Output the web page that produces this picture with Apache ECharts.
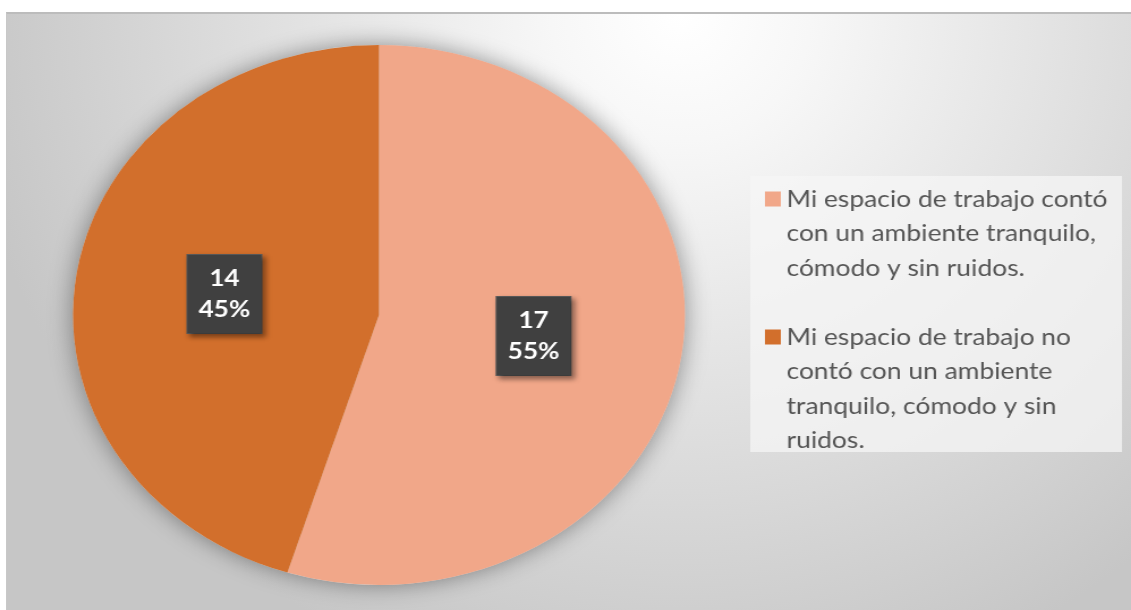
<!DOCTYPE html>
<html>
<head>
<meta charset="utf-8">
<script src="https://cdn.jsdelivr.net/npm/echarts@6/dist/echarts.min.js"></script>
<style>
  html, body { margin: 0; padding: 0; background: #ffffff; width: 1131px; height: 610px; overflow: hidden; }
  #frame {
    position: absolute; left: 6px; top: 12px; width: 1125px; height: 598px;
    border-top: 2px solid #bcbcbc; border-left: 1px solid #c8c8c8; box-sizing: border-box;
    background: radial-gradient(ellipse 720px 700px at 674px 0px, #ffffff 0%, #f7f7f7 18%, #c6c6c6 100%);
  }
  #chart {
    position: absolute; left: 0; top: 0; width: 998px; height: 610px;
    transform: scaleX(1.1333); transform-origin: 0 0;
  }
</style>
</head>
<body>
<div id="frame"></div>
<div id="chart"></div>
<script>
// ---- data ----
const categories = [
  'Mi espacio de trabajo contó con un ambiente tranquilo, cómodo y sin ruidos.',
  'Mi espacio de trabajo no contó con un ambiente tranquilo, cómodo y sin ruidos.'
];
const values = [17, 14];
const legendLines = [
  'Mi espacio de trabajo contó\ncon un ambiente tranquilo,\ncómodo y sin ruidos.',
  'Mi espacio de trabajo no\ncontó con un ambiente\ntranquilo, cómodo y sin\nruidos.'
];
const colors = ['#F1A789', '#D26F2C'];

// ---- chart ----
const LH = 34.5; // legend line height
const chart = echarts.init(document.getElementById('chart'), null, { renderer: 'canvas' });

const legendData = categories.map(function (name, i) {
  const n = legendLines[i].split('\n').length;
  return { name: name, textStyle: { padding: [(n - 1) * LH, 0, 0, 0] } };
});

const legendFont = { fontFamily: 'Lato', fontSize: 23.3, color: '#555555', lineHeight: LH };

chart.setOption({
  backgroundColor: 'transparent',
  animation: false,
  color: colors,
  graphic: [{
    type: 'rect', z: -1, silent: true,
    shape: { x: 662, y: 176, width: 328, height: 276 },
    style: { fill: 'rgba(246,246,246,0.75)' }
  }],
  legend: {
    orient: 'vertical',
    left: 675, top: 199 - 2.5 * LH,
    padding: 0,
    itemGap: -2 * LH,
    itemWidth: 14, itemHeight: 15,
    icon: 'rect',
    selectedMode: false,
    data: legendData,
    formatter: function (name) {
      return legendLines[categories.indexOf(name)].split('\n').map(function (s) { return '{t|' + s + '}'; }).join('\n');
    },
    textStyle: Object.assign({ rich: { t: legendFont } }, legendFont)
  },
  series: [
    {
      type: 'pie', silent: true, z: 1,
      center: [334.4, 315], radius: 270,
      label: { show: false }, labelLine: { show: false },
      itemStyle: { color: '#d9d9d9', shadowBlur: 22, shadowColor: 'rgba(0,0,0,0.4)' },
      data: [{ value: 1 }]
    },
    {
      type: 'pie', silent: true, z: 2,
      center: [334.4, 315], radius: 270,
      startAngle: 90, clockwise: true,
      percentPrecision: 0,
      labelLine: { show: false },
      label: {
        show: true, position: 'inside',
        formatter: '{c}\n{d}%',
        color: '#ffffff', fontFamily: 'Lato', fontWeight: 'bold', fontSize: 23,
        lineHeight: 31, width: 47, overflow: 'none', align: 'center',
        backgroundColor: '#404040', borderColor: '#5a5a5a', borderWidth: 1,
        padding: [8, 9],
        shadowBlur: 5, shadowOffsetX: 3, shadowOffsetY: 3, shadowColor: 'rgba(0,0,0,0.45)'
      },
      data: categories.map(function (name, i) { return { name: name, value: values[i] }; })
    }
  ]
});
</script>
</body>
</html>
